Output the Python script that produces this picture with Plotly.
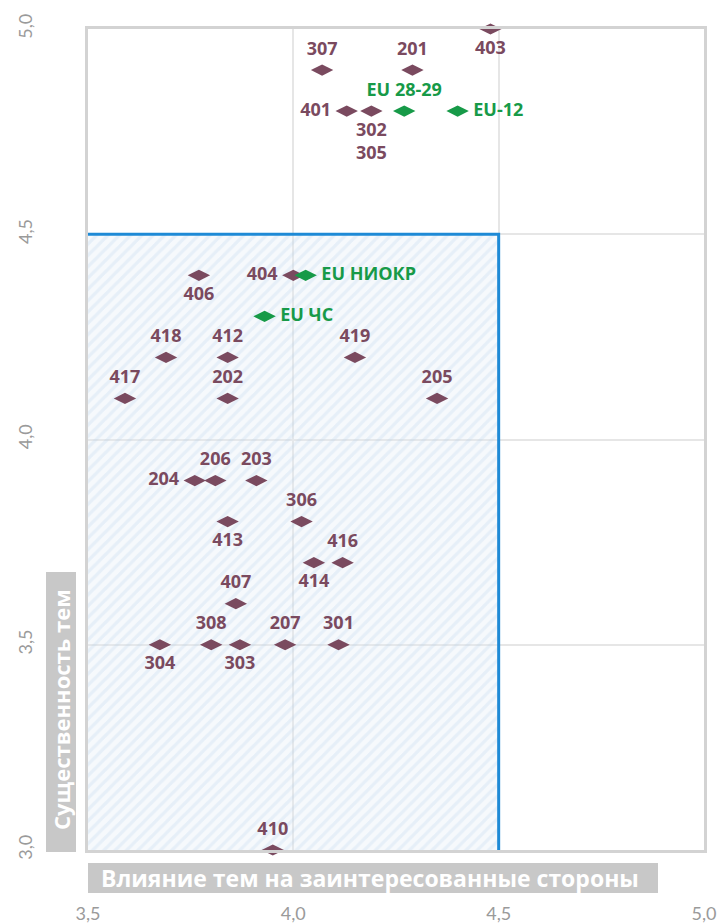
import plotly.graph_objects as go

# Topic codes (maroon) and EU benchmark points (green)
topic_labels = ["403", "307", "201", "401", "302<br>305", "406", "404",
                "418", "412", "419", "417", "202", "205",
                "204", "206", "203", "413", "306", "414", "416", "407",
                "304", "308", "303", "207", "301", "410"]
topic_x = [4.48, 4.07, 4.29, 4.13, 4.19, 3.77, 4.00,
           3.69, 3.84, 4.15, 3.59, 3.84, 4.35,
           3.76, 3.81, 3.91, 3.84, 4.02, 4.05, 4.12, 3.86,
           3.675, 3.80, 3.87, 3.98, 4.11, 3.95]
topic_y = [5.00, 4.90, 4.90, 4.80, 4.80, 4.40, 4.40,
           4.20, 4.20, 4.20, 4.10, 4.10, 4.10,
           3.90, 3.90, 3.90, 3.80, 3.80, 3.70, 3.70, 3.60,
           3.50, 3.50, 3.50, 3.50, 3.50, 3.00]
topic_textpos = ["bottom center", "top center", "top center", "middle left",
                 "bottom center", "bottom center", "middle left",
                 "top center", "top center", "top center", "top center",
                 "top center", "top center",
                 "middle left", "top center", "top center", "bottom center",
                 "top center", "bottom center", "top center", "top center",
                 "bottom center", "top center", "bottom center", "top center",
                 "top center", "top center"]

eu_labels = ["EU 28-29", "EU-12", "EU НИОКР", "EU ЧС"]
eu_x = [4.27, 4.40, 4.03, 3.93]
eu_y = [4.80, 4.80, 4.40, 4.30]
eu_textpos = ["top center", "middle right", "middle right", "middle right"]

# Axis ticks
tick_vals = [3.5, 4.0, 4.5, 5.0]
tick_text = ["3,5", "4,0", "4,5", "5,0"]
y_tick_vals = [3.0, 3.5, 4.0, 4.5, 5.0]
y_tick_text = ["3,0", "3,5", "4,0", "4,5", "5,0"]

# Highlighted zone boundaries
zone_x = [3.5, 4.5]
zone_y = [3.0, 4.5]

x_title = "Влияние тем на заинтересованные стороны"
y_title = "Существенность тем"

MAROON = "#7a4a5f"
GREEN = "#179a48"
BLUE = "#1e8ad6"
FONT = "Open Sans"
NBSP = "\u00a0"


def pad(label, pos):
    # small gap between a side label and its marker
    if pos == "middle left":
        return label + NBSP
    if pos == "middle right":
        return NBSP + label
    return label


fig = go.Figure()

# hatched zone
fig.add_trace(go.Scatter(
    x=[zone_x[0], zone_x[1], zone_x[1], zone_x[0], zone_x[0]],
    y=[zone_y[0], zone_y[0], zone_y[1], zone_y[1], zone_y[0]],
    mode="none", fill="toself", fillcolor="rgba(0,0,0,0)",
    fillpattern=dict(shape="/", size=8, solidity=0.4,
                     fgcolor="rgba(175,205,235,0.45)",
                     bgcolor="rgba(225,236,247,0.3)"),
    hoverinfo="skip", showlegend=False,
))

# zone border (top and right edges)
fig.add_trace(go.Scatter(
    x=[zone_x[0], zone_x[1], zone_x[1]],
    y=[zone_y[1], zone_y[1], zone_y[0]],
    mode="lines", line=dict(color=BLUE, width=3),
    hoverinfo="skip", showlegend=False, cliponaxis=False,
))

fig.add_trace(go.Scatter(
    x=topic_x, y=topic_y,
    text=[pad(t, p) for t, p in zip(topic_labels, topic_textpos)],
    mode="markers+text", textposition=topic_textpos,
    marker=dict(symbol="diamond-wide", size=16, color=MAROON),
    textfont=dict(family=FONT, size=18, color=MAROON, weight="bold"),
    cliponaxis=False, showlegend=False,
))

fig.add_trace(go.Scatter(
    x=eu_x, y=eu_y,
    text=[pad(t, p) for t, p in zip(eu_labels, eu_textpos)],
    mode="markers+text", textposition=eu_textpos,
    marker=dict(symbol="diamond-wide", size=16, color=GREEN),
    textfont=dict(family=FONT, size=18, color=GREEN, weight="bold"),
    cliponaxis=False, showlegend=False,
))

L, R, T, B = 88, 15, 29, 74
W, H = 719, 924
pw, ph = W - L - R, H - T - B


def px_x(v):
    return (v - L) / pw


def px_y(v):
    return (H - B - v) / ph


GREY_BOX = "#c8c8c8"
shapes = [
    dict(type="rect", xref="paper", yref="paper",
         x0=px_x(88), x1=px_x(658), y0=px_y(893), y1=px_y(863),
         fillcolor=GREY_BOX, line=dict(width=0), layer="above"),
    dict(type="rect", xref="paper", yref="paper",
         x0=px_x(46), x1=px_x(76), y0=px_y(852), y1=px_y(572),
         fillcolor=GREY_BOX, line=dict(width=0), layer="above"),
]

annotations = [
    dict(text=x_title, xref="paper", yref="paper",
         x=px_x(99), y=px_y(878), xanchor="left", yanchor="middle",
         showarrow=False,
         font=dict(family=FONT, size=23, color="white", weight="bold")),
    dict(text=y_title, xref="paper", yref="paper",
         x=px_x(61), y=px_y(710), xanchor="center", yanchor="middle",
         textangle=-90, showarrow=False,
         font=dict(family=FONT, size=22, color="white", weight="bold")),
]

fig.update_layout(
    width=W, height=H,
    margin=dict(l=L, r=R, t=T, b=B),
    paper_bgcolor="white", plot_bgcolor="white",
    shapes=shapes, annotations=annotations,
    xaxis=dict(range=[3.5, 5.0], tickvals=tick_vals, ticktext=tick_text,
               showgrid=True, gridcolor="#e6e6e6", gridwidth=2,
               zeroline=False, showline=True, mirror=True,
               linecolor="#d3d3d3", linewidth=3, ticks="",
               ticklabelstandoff=45, automargin=False,
               tickfont=dict(family="Lato", size=18, color="#9a9a9a")),
    yaxis=dict(range=[3.0, 5.0], tickvals=y_tick_vals, ticktext=y_tick_text,
               showgrid=True, gridcolor="#e6e6e6", gridwidth=2,
               zeroline=False, showline=True, mirror=True,
               linecolor="#d3d3d3", linewidth=3, ticks="",
               tickangle=-90, ticklabelstandoff=46, automargin=False,
               tickfont=dict(family="Lato", size=18, color="#9a9a9a")),
)

fig.write_html("out.html")
